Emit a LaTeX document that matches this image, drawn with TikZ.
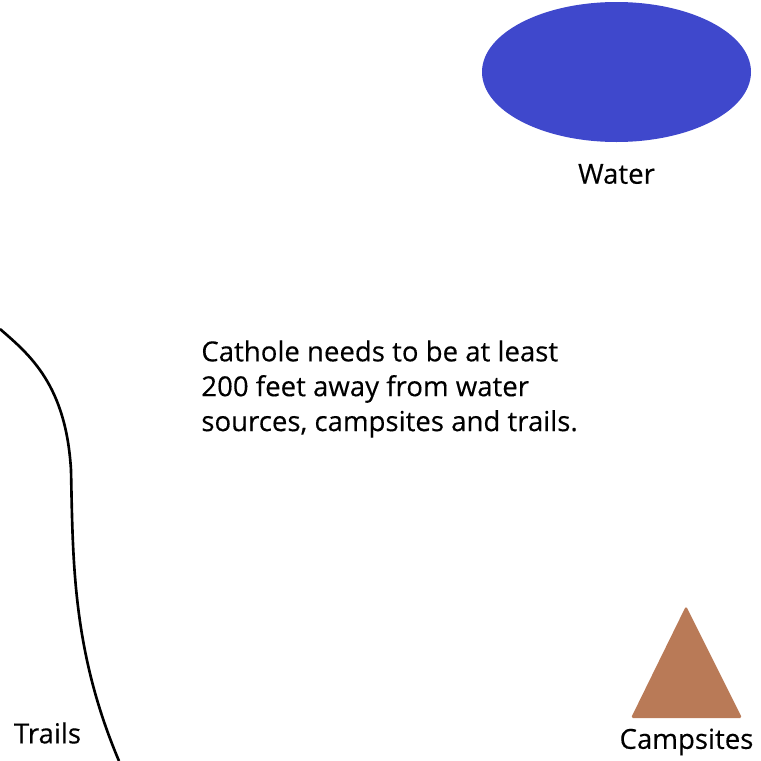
\documentclass[tikz,border=0pt]{standalone}
\usepackage{fontspec}
\setmainfont{Open Sans}[RawFeature={embolden=0.3}]
\usetikzlibrary{positioning}
\usetikzlibrary{shapes.geometric}
\definecolor{waterblue}{RGB}{63,72,204}
\definecolor{tentbrown}{RGB}{185,122,87}
\tikzset{
	every node/.style = {font=\fontsize{15.7}{19.85}\selectfont, text=black, inner sep=0pt}
}

\begin{document}
\begin{tikzpicture}[x=0.02cm, y=-0.02cm]
		\useasboundingbox (0,0) rectangle (761,761);
		% water
		\fill[waterblue] (616.5,72) ellipse [x radius=134.5, y radius=70] node (pond) {};
		\node (water) at (616.5,174) {Water};
		% campsite
		\fill[tentbrown, rounded corners=1pt] (686,606) -- (742,718) -- (631,718) -- cycle;
		\node (camp) at (686.5,742) {Campsites};
		% trail
		\draw[line width=1.5pt, black] (0,329) .. controls (30,355) and (66,385) .. (71,470)
			.. controls (73,560) and (72,650) .. (119,761);
		\node (trails) at (47.5,733) {Trails};
		% text
		\node[align=left, anchor=north west] (note) at (201,340) {Cathole needs to be at least\\200 feet away from water\\sources, campsites and trails.};
	\end{tikzpicture}
\end{document}
